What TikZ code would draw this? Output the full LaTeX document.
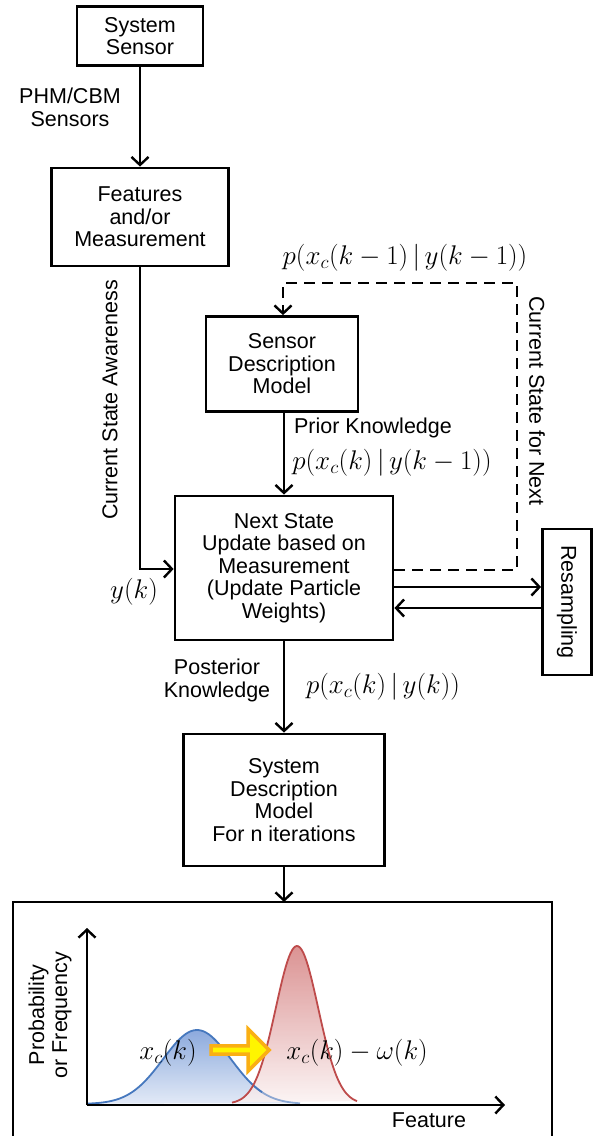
\documentclass[tikz,border=0pt]{standalone}
\usepackage{fix-cm}
\usepackage{fontspec}
\setmainfont{Liberation Sans}
\usetikzlibrary{arrows.meta,positioning,shapes.arrows,calc}
\definecolor{bluecurve}{RGB}{70,120,190}
\definecolor{bluefill}{RGB}{120,155,215}
\definecolor{redcurve}{RGB}{190,75,75}
\definecolor{redfill}{RGB}{210,120,120}
\definecolor{arrowyellow}{RGB}{255,245,0}
\definecolor{arroworange}{RGB}{250,175,20}
\tikzset{
  >={Straight Barb[length=8pt,width=17pt,line width=2.4pt]},
  block/.style={draw,line width=2.8pt,align=center,font=\fontsize{21.5}{22.5}\selectfont,inner sep=2pt},
  flow/.style={->,line width=2.6pt},
  dflow/.style={->,line width=2.6pt,dash pattern=on 11pt off 7pt},
  lbl/.style={font=\fontsize{21.5}{23}\selectfont,align=center,inner sep=0pt},
  eq/.style={font=\fontsize{27}{30}\selectfont,inner sep=0pt},
}
\begin{document}
\begin{tikzpicture}[x=1pt,y=-1pt]
  \useasboundingbox (0,0) rectangle (602,1136);
  % blocks
  \node[block,minimum width=126pt,minimum height=59pt] (sensor) at (140,36) {System\\Sensor};
  \node[block,minimum width=177pt,minimum height=98pt] (feat) at (140,217) {Features\\and/or\\Measurement};
  \node[block,minimum width=152pt,minimum height=95pt] (sdm) at (282,364) {Sensor\\Description\\Model};
  \node[block,minimum width=218pt,minimum height=144pt] (next) at (284,568) {Next State\\Update based on\\Measurement\\(Update Particle\\Weights)};
  \node[block,minimum width=146pt,minimum height=49pt,rotate=-90] (resamp) at (567,602) {Resampling};
  \node[block,minimum width=201pt,minimum height=132pt] (sysdm) at (284,800) {System\\Description\\Model\\For n iterations};
  \draw[line width=2.8pt] (13,902) rectangle (552,1145);
  \coordinate (plottop) at (284,902);
  % connectors
  \draw[flow] (sensor) -- (feat);
  \coordinate (turn) at (140,569);
  \draw[flow] (feat.south) -- (turn) -- (next.west |- turn);
  \draw[flow] (sdm.south -| next.north) -- (next.north);
  \draw[flow] (next) -- (sysdm);
  \draw[flow] (sysdm) -- (plottop);
  \coordinate (loopA) at (517,570);
  \coordinate (loopB) at (517,283);
  \coordinate (loopC) at (283,283);
  \draw[dflow] (next.east |- loopA) -- (loopA) -- (loopB) -- (loopC) -- (sdm.north -| loopC);
  \draw[flow] (next.east |- 0,587) -- (resamp.south |- 0,587);
  \draw[flow] (resamp.south |- 0,608) -- (next.east |- 0,608);
  % labels
  \node[lbl] (phm) at (70,107) {PHM/CBM\\Sensors};
  \node[lbl,rotate=90] (csa) at (110,400) {Current State Awareness};
  \node[eq] (yk) at (134,592) {$y(k)$};
  \node[eq] (pprev) at (405,258) {$p\big(x_c(k-1)\,|\,y(k-1)\big)$};
  \node[lbl,rotate=-90] (csn) at (537,401) {Current State for Next};
  \node[lbl] (prior) at (373,428) {Prior Knowledge};
  \node[eq] (pprior) at (392,463) {$p\big(x_c(k)\,|\,y(k-1)\big)$};
  \node[lbl] (post) at (217,680) {Posterior\\Knowledge};
  \node[eq] (ppost) at (383,687) {$p\big(x_c(k)\,|\,y(k)\big)$};
  % distribution plot
  \shade[top color=bluefill,bottom color=bluefill!25,opacity=0.85]
    plot[domain=87:300,samples=80] (\x,{1104-74*exp(-((\x-197)/48)^2)}) -- cycle;
  \shade[top color=redfill,bottom color=redfill!10,opacity=0.8]
    plot[domain=232:357,samples=80] (\x,{1104-158*exp(-((\x-297)/30)^2)}) -- cycle;
  \draw[bluecurve,line width=1.8pt,opacity=0.6] plot[domain=250:300,samples=30] (\x,{1104-74*exp(-((\x-197)/48)^2)});
  \draw[bluecurve,line width=1.8pt] plot[domain=87:262,samples=70] (\x,{1104-74*exp(-((\x-197)/48)^2)});
  \draw[redcurve,line width=1.8pt] plot[domain=232:357,samples=80] (\x,{1104-158*exp(-((\x-297)/30)^2)});
  \coordinate (origin) at (87,1105);
  \coordinate (ytip) at (87,928);
  \coordinate (xtip) at (505,1105);
  \draw[flow] (origin) -- (ytip);
  \draw[flow] (origin) -- (xtip);
  \node[lbl] (feature) at (429,1120) {Feature};
  \node[lbl,rotate=90] (prob) at (50,1015) {Probability\\or Frequency};
  \node[eq] (xck) at (168,1053) {$x_c(k)$};
  \node[eq] (xckw) at (357,1053) {$x_c(k)-\omega(k)$};
  \node[single arrow,fill=arrowyellow,draw=arroworange,line width=3.5pt,minimum height=58pt,
    minimum width=42pt,single arrow head extend=7pt,inner sep=0pt] (shift) at (238,1050) {};
\end{tikzpicture}
\end{document}
